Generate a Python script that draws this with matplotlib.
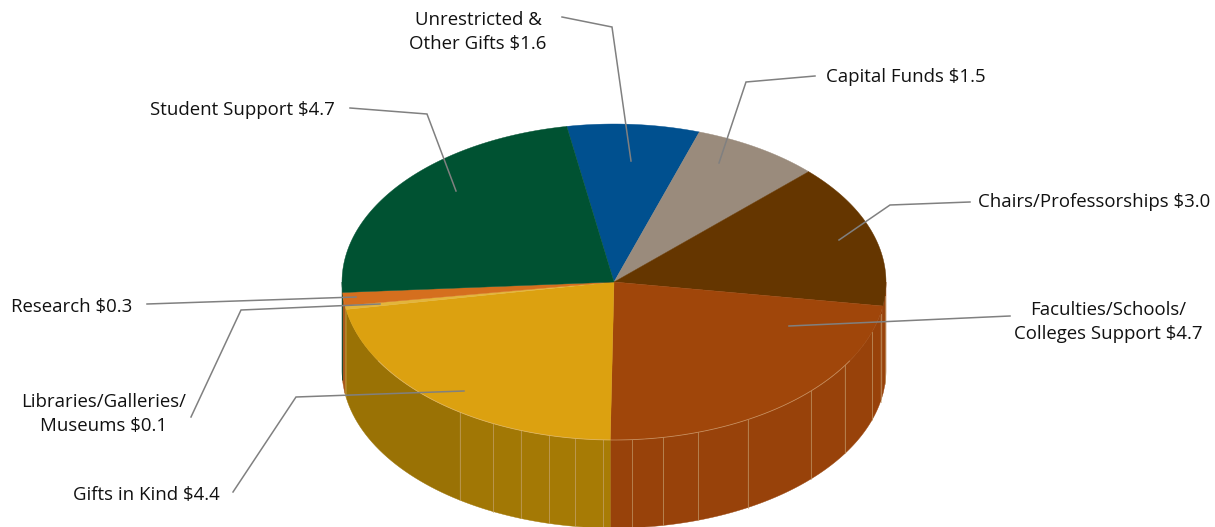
import matplotlib
matplotlib.use("Agg")
import matplotlib.pyplot as plt
import numpy as np
from matplotlib.colors import to_rgb
from matplotlib.patches import Polygon

plt.rcParams['font.family'] = ['Open Sans', 'DejaVu Sans']

# clockwise from the top, billions of dollars (one more digit than the labels)
categories = ["Unrestricted & Other Gifts", "Capital Funds", "Chairs/Professorships",
              "Faculties/Schools/Colleges Support", "Gifts in Kind",
              "Libraries/Galleries/Museums", "Research", "Student Support"]
values = [1.60, 1.55, 3.00, 4.64, 4.48, 0.08, 0.27, 4.74]
labels = ["Unrestricted &\nOther Gifts $1.6", "Capital Funds $1.5", "Chairs/Professorships $3.0",
          "Faculties/Schools/\nColleges Support $4.7", "Gifts in Kind $4.4",
          "Libraries/Galleries/\nMuseums $0.1", "Research $0.3", "Student Support $4.7"]
top_colors = ["#00508f", "#9a8b7c", "#653600", "#a0460a", "#dca110", "#e3b53c", "#d56f1e", "#005232"]
side_colors = ["#00406f", "#7d7064", "#98420a", "#98420a", "#a87c05", "#b8912c", "#a9581a", "#00402a"]
side_fade = [0, 0, 0, 0, 0.13, 0, 0, 0]

# where the gradient bands of the wall change, degrees clockwise from the top
seam_angles = [95.0, 101.5, 108.4, 121.9, 133.6, 150.5, 162.0, 169.6, 176.2,
               182.3, 188.2, 193.8, 200.0, 206.4, 214.5]

START_ANGLE = -10
CX, CY, RX, RY, DEPTH = 614, 282, 272, 158, 88

# label text anchor (x, y, ha) and leader polyline, in the order of categories
label_pos = [(478, 32, "center"), (826, 77, "left"), (978, 202, "left"), (1108, 322, "center"),
             (220, 495, "right"), (104, 414, "center"), (132, 307, "right"), (335, 110, "right")]
leaders = [[(562, 17), (612, 27), (631, 161)],
           [(815, 76), (746, 82), (719, 163)],
           [(970, 202), (890, 205), (839, 240)],
           [(1010, 316), (789, 326)],
           [(233, 492), (296, 397), (464, 391)],
           [(191, 417), (241, 310), (380, 304)],
           [(147, 304), (356, 297)],
           [(350, 108), (427, 114), (456, 191)]]


def rim(angles, drop=0):
    rad = np.radians(angles)
    return np.column_stack((CX + RX * np.sin(rad), CY - RY * np.cos(rad) + drop))


def shade(color, angle, fade):
    # wall gets a bit darker going away from the front of the disc
    factor = 1 - fade * min(abs(angle - 180), 90) / 90
    return tuple(c * factor for c in to_rgb(color))


fig = plt.figure(figsize=(12.15, 5.27), dpi=100)
ax = fig.add_axes([0, 0, 1, 1])
ax.set_xlim(0, 1215)
ax.set_ylim(527, 0)
ax.axis("off")

edges = START_ANGLE + np.cumsum([0] + values) * 360 / sum(values)

# walls first: only the front half of the disc shows one
for i in range(len(values)):
    low, high = max(edges[i], 90), min(edges[i + 1], 270)
    if low >= high:
        continue
    cuts = [low] + [a for a in seam_angles if low < a < high] + [high]
    for a, b in zip(cuts[:-1], cuts[1:]):
        arc = np.linspace(a, b, 30)
        pts = np.vstack((rim(arc), rim(arc[::-1], DEPTH)))
        color = shade(side_colors[i], (a + b) / 2, side_fade[i])
        ax.add_patch(Polygon(pts, closed=True, fc=color, ec=color, lw=0.3, zorder=1))
        if a in seam_angles:
            seam = np.vstack((rim([a]), rim([a], DEPTH)))
            ax.plot(seam[:, 0], seam[:, 1], color="#c9a878", lw=0.7, alpha=0.6, zorder=2)

# top of the disc
for i in range(len(values)):
    arc = np.linspace(edges[i], edges[i + 1], 80)
    pts = np.vstack(([(CX, CY)], rim(arc)))
    ax.add_patch(Polygon(pts, closed=True, fc=top_colors[i], ec=top_colors[i], lw=0.3, zorder=3))

# pale seam along the front rim
front = rim(np.linspace(120, 240, 120))
ax.plot(front[:, 0], front[:, 1], color="#e8c9a0", lw=0.6, alpha=0.5, zorder=3.5)

for line in leaders:
    xs, ys = zip(*line)
    ax.plot(xs, ys, color="#808080", lw=1.1, zorder=4, solid_joinstyle="miter")

for text, (x, y, ha) in zip(labels, label_pos):
    ax.text(x, y, text, ha=ha, va="center", multialignment="center", fontsize=13.4,
            color="#111111", linespacing=1.42, zorder=5)

fig.savefig("out.png", dpi=100)
